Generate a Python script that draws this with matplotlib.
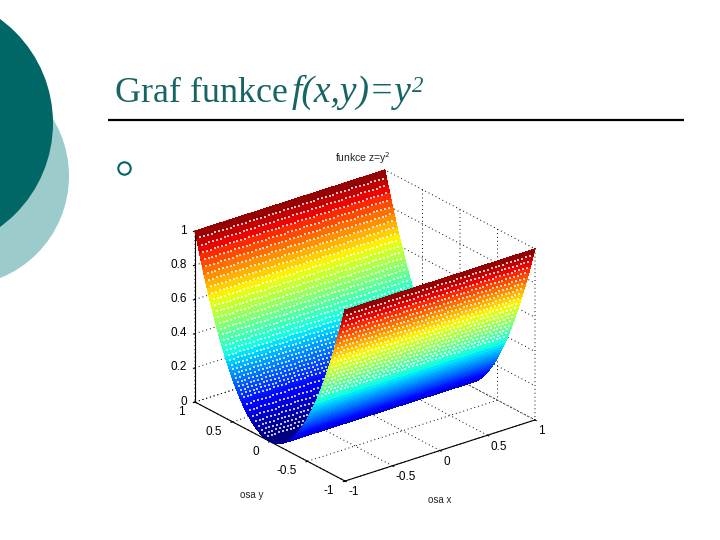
import numpy as np
import matplotlib
matplotlib.use("Agg")
import matplotlib.pyplot as plt
from matplotlib.patches import Circle
from mpl_toolkits.mplot3d import proj3d

title_plain = "Graf funkce"
title_italic = "f(x,y)=y"
title_sup = "2"
plot_title = "funkce z=y$^2$"
x_label = "osa x"
y_label = "osa y"

x_values = [-1.0, -0.96, -0.92, -0.88, -0.84, -0.8, -0.76, -0.72, -0.68, -0.64, -0.6,
            -0.56, -0.52, -0.48, -0.44, -0.4, -0.36, -0.32, -0.28, -0.24, -0.2,
            -0.16, -0.12, -0.08, -0.04, 0.0, 0.04, 0.08, 0.12, 0.16, 0.2,
            0.24, 0.28, 0.32, 0.36, 0.4, 0.44, 0.48, 0.52, 0.56, 0.6,
            0.64, 0.68, 0.72, 0.76, 0.8, 0.84, 0.88, 0.92, 0.96, 1.0]
y_values = [-1.0, -0.98, -0.96, -0.94, -0.92, -0.9, -0.88, -0.86, -0.84, -0.82,
            -0.8, -0.78, -0.76, -0.74, -0.72, -0.7, -0.68, -0.66, -0.64, -0.62,
            -0.6, -0.58, -0.56, -0.54, -0.52, -0.5, -0.48, -0.46, -0.44, -0.42,
            -0.4, -0.38, -0.36, -0.34, -0.32, -0.3, -0.28, -0.26, -0.24, -0.22,
            -0.2, -0.18, -0.16, -0.14, -0.12, -0.1, -0.08, -0.06, -0.04, -0.02,
            0.0, 0.02, 0.04, 0.06, 0.08, 0.1, 0.12, 0.14, 0.16, 0.18,
            0.2, 0.22, 0.24, 0.26, 0.28, 0.3, 0.32, 0.34, 0.36, 0.38,
            0.4, 0.42, 0.44, 0.46, 0.48, 0.5, 0.52, 0.54, 0.56, 0.58,
            0.6, 0.62, 0.64, 0.66, 0.68, 0.7, 0.72, 0.74, 0.76, 0.78,
            0.8, 0.82, 0.84, 0.86, 0.88, 0.9, 0.92, 0.94, 0.96, 0.98, 1.0]
z_profile = [1.0, 0.9604, 0.9216, 0.8836, 0.8464, 0.81, 0.7744, 0.7396, 0.7056, 0.6724,
             0.64, 0.6084, 0.5776, 0.5476, 0.5184, 0.49, 0.4624, 0.4356, 0.4096, 0.3844,
             0.36, 0.3364, 0.3136, 0.2916, 0.2704, 0.25, 0.2304, 0.2116, 0.1936, 0.1764,
             0.16, 0.1444, 0.1296, 0.1156, 0.1024, 0.09, 0.0784, 0.0676, 0.0576, 0.0484,
             0.04, 0.0324, 0.0256, 0.0196, 0.0144, 0.01, 0.0064, 0.0036, 0.0016, 0.0004,
             0.0, 0.0004, 0.0016, 0.0036, 0.0064, 0.01, 0.0144, 0.0196, 0.0256, 0.0324,
             0.04, 0.0484, 0.0576, 0.0676, 0.0784, 0.09, 0.1024, 0.1156, 0.1296, 0.1444,
             0.16, 0.1764, 0.1936, 0.2116, 0.2304, 0.25, 0.2704, 0.2916, 0.3136, 0.3364,
             0.36, 0.3844, 0.4096, 0.4356, 0.4624, 0.49, 0.5184, 0.5476, 0.5776, 0.6084,
             0.64, 0.6724, 0.7056, 0.7396, 0.7744, 0.81, 0.8464, 0.8836, 0.9216, 0.9604, 1.0]
x_ticks = [-1, -0.5, 0, 0.5, 1]
y_ticks = [-1, -0.5, 0, 0.5, 1]
z_ticks = [0, 0.2, 0.4, 0.6, 0.8, 1]
x_ticklabels = ["-1", "-0.5", "0", "0.5", "1"]
y_ticklabels = ["-1", "-0.5", "0", "0.5", "1"]
z_ticklabels = ["0", "0.2", "0.4", "0.6", "0.8", "1"]

TEAL = "#006666"
LIGHT = "#9CCBCC"
TITLE_C = "#176464"
W, H = 720, 540

fig = plt.figure(figsize=(7.2, 5.4), dpi=100, facecolor="white")

# slide background in pixel coordinates
bg = fig.add_axes([0, 0, 1, 1], zorder=0)
bg.set_xlim(0, W)
bg.set_ylim(H, 0)
bg.axis("off")
bg.add_patch(Circle((-41, 176), 110, fc=LIGHT, ec="none"))
bg.add_patch(Circle((-75.5, 123), 128.5, fc=TEAL, ec="none"))
bg.plot([108, 684], [119.5, 119.5], color="black", lw=1.6, solid_capstyle="butt")
bg.add_patch(Circle((124.5, 168.5), 6.2, fc="none", ec=TEAL, lw=1.5))
serif = "Liberation Serif"
bg.text(115, 102, title_plain, family=serif, fontsize=25.9, color=TITLE_C, va="baseline")
bg.text(292, 102, title_italic, family=serif, style="italic", fontsize=27, color=TITLE_C, va="baseline")
bg.text(412, 92, title_sup, family=serif, style="italic", fontsize=16.5, color=TITLE_C, va="baseline")

# 3D plot
ax = fig.add_axes([0.1, 0.05, 0.7, 0.7 * 720 / 540], projection="3d", proj_type="ortho",
                  zorder=1, computed_zorder=False)
ax.patch.set_alpha(0)
ax.set_box_aspect((241, 243.5, 187.6))
ax.view_init(elev=24.3, azim=-128)
ax.set_xlim(-1, 1)
ax.set_ylim(-1, 1)
ax.set_zlim(0, 1)

xa = np.array(x_values)
ya = np.array(y_values)
za = np.array(z_profile)
mid = len(ya) // 2


def wall(rows, zo):
    X, Y = np.meshgrid(xa, ya[rows])
    Z = np.tile(za[rows][:, None], (1, len(xa)))
    ax.plot_surface(X, Y, Z, cmap="jet", vmin=0, vmax=1, rstride=1, cstride=1,
                    linewidth=0, edgecolor="none", shade=False, antialiased=False, zorder=zo)


def specks(rows, zo):
    px, py, pz = [], [], []
    for j in rows:
        if abs(ya[j]) < 0.4 and j % 2:
            continue
        for i in range(1, len(xa) - 1):
            px.append(xa[i])
            py.append(ya[j])
            pz.append(za[j])
    ax.scatter(px, py, pz, s=0.7, c="white", marker="s", linewidths=0, alpha=0.75,
               depthshade=False, zorder=zo)


wall(np.arange(mid, len(ya)), 3)
specks(np.arange(mid + 4, len(ya) - 1), 4)
wall(np.arange(0, mid + 1), 5)
specks(np.arange(1, 19), 6)

ax.set_xticks(x_ticks, x_ticklabels, family="Liberation Sans", fontsize=8.5)
ax.set_yticks(y_ticks, y_ticklabels, family="Liberation Sans", fontsize=8.5)
ax.set_zticks(z_ticks, z_ticklabels, family="Liberation Sans", fontsize=8.5)
for lab in ax.get_xticklabels():
    lab.set_ha("left")
for lab in ax.get_yticklabels():
    lab.set_ha("right")
    lab.set_va("baseline")
for lab in ax.get_zticklabels():
    lab.set_ha("right")
    lab.set_va("center")
ax.tick_params(axis="x", pad=-5)
ax.tick_params(axis="y", pad=0)
ax.tick_params(axis="z", pad=-4.5)
for axis in (ax.xaxis, ax.yaxis, ax.zaxis):
    axis.set_pane_color((1, 1, 1, 0))
    axis.pane.set_edgecolor((1, 1, 1, 0))
    axis._axinfo["grid"].update(color="black", linestyle=(0, (1, 3)), linewidth=0.7)
    axis._axinfo["tick"].update(inward_factor=0.1, outward_factor=0.0)
    axis.line.set_color("black")
    axis.line.set_linewidth(0.8)


def corners_px():
    ax.apply_aspect()
    M = ax.get_proj()
    pts = []
    for p in [(-1, 1, 0), (1, -1, 0)]:
        u, v, _ = proj3d.proj_transform(*p, M)
        pts.append(ax.transData.transform((u, v)))
    return np.array(pts)


target = np.array([[195.0, H - 402.0], [535.0, H - 420.0]])
for _ in range(3):
    c = corners_px()
    scale = np.linalg.norm(target[1] - target[0]) / np.linalg.norm(c[1] - c[0])
    pos = ax.get_position(original=True)
    ax.set_position([pos.x0, pos.y0, pos.width * scale, pos.height * scale])
    c = corners_px()
    shift = (target - c).mean(axis=0)
    pos = ax.get_position(original=True)
    ax.set_position([pos.x0 + shift[0] / W, pos.y0 + shift[1] / H, pos.width, pos.height])

# plot captions on top
bg2 = fig.add_axes([0, 0, 1, 1], zorder=2)
bg2.set_xlim(0, W)
bg2.set_ylim(H, 0)
bg2.axis("off")
bg2.text(363, 158, plot_title, family="Liberation Sans", fontsize=7.5, ha="center", va="center", color="#222222")
bg2.text(440, 500, x_label, family="Liberation Sans", fontsize=7, ha="center", va="center", color="#222222")
bg2.text(252, 495, y_label, family="Liberation Sans", fontsize=7, ha="center", va="center", color="#222222")

fig.savefig("out.png", dpi=100)
